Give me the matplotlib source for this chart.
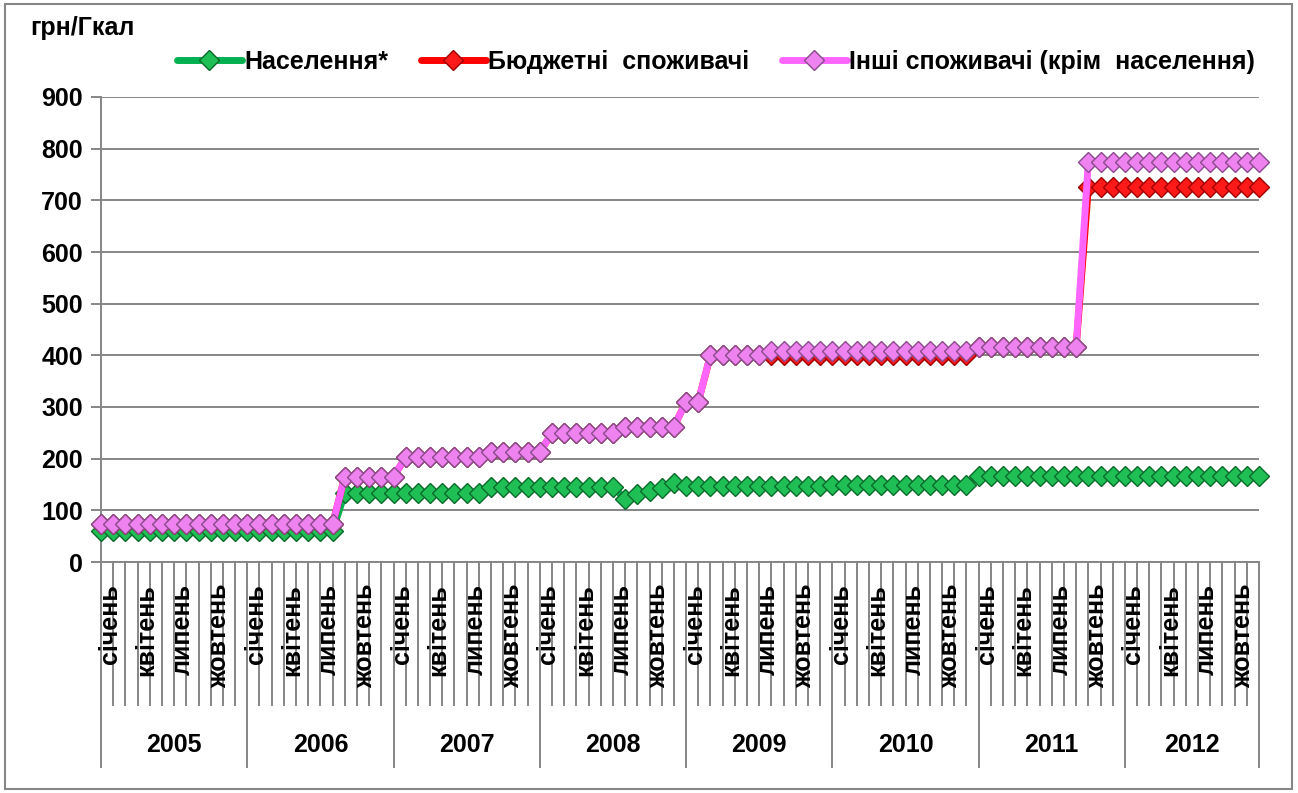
import matplotlib
matplotlib.use('Agg')
import matplotlib.pyplot as plt
from matplotlib.patches import Rectangle
import numpy as np

plt.rcParams['font.family'] = ['Liberation Sans', 'DejaVu Sans']
plt.rcParams['font.weight'] = 'bold'

# ---------------- data ----------------
years = ['2005', '2006', '2007', '2008', '2009', '2010', '2011', '2012']
month_labels = ['січень', 'квітень', 'липень', 'жовтень']
month_label_idx = [0, 3, 6, 9]
unit_label = 'грн/Гкал'
series_names = ['Населення*', 'Бюджетні  споживачі', 'Інші споживачі (крім  населення)']

# monthly tariffs, Jan 2005 .. Dec 2012 (12 values per row = one year)
naselennia = [
    60, 60, 60, 60, 60, 60, 60, 60, 60, 60, 60, 60,
    60, 60, 60, 60, 60, 60, 60, 60, 133, 133, 133, 133,
    133, 133, 133, 133, 133, 133, 133, 133, 146, 146, 146, 146,
    146, 146, 146, 146, 146, 146, 146, 122, 131, 137, 143, 152,
    147, 147, 147, 147, 147, 147, 147, 147, 147, 147, 147, 147,
    150, 150, 150, 150, 150, 150, 150, 150, 150, 150, 150, 150,
    167, 167, 167, 167, 167, 167, 167, 167, 167, 167, 167, 167,
    167, 167, 167, 167, 167, 167, 167, 167, 167, 167, 167, 167,
]
biudzhetni = [
    73, 73, 73, 73, 73, 73, 73, 73, 73, 73, 73, 73,
    73, 73, 73, 73, 73, 73, 73, 73, 165, 165, 165, 165,
    165, 203, 203, 203, 203, 203, 203, 203, 212, 212, 212, 212,
    212, 250, 250, 250, 250, 250, 250, 262, 262, 262, 262, 262,
    310, 310, 400, 400, 400, 400, 400, 400, 400, 400, 400, 400,
    400, 400, 400, 400, 400, 400, 400, 400, 400, 400, 400, 400,
    416, 416, 416, 416, 416, 416, 416, 416, 416, 725, 725, 725,
    725, 725, 725, 725, 725, 725, 725, 725, 725, 725, 725, 725,
]
inshi = [
    73, 73, 73, 73, 73, 73, 73, 73, 73, 73, 73, 73,
    73, 73, 73, 73, 73, 73, 73, 73, 165, 165, 165, 165,
    165, 203, 203, 203, 203, 203, 203, 203, 212, 212, 212, 212,
    212, 250, 250, 250, 250, 250, 250, 262, 262, 262, 262, 262,
    310, 310, 401, 401, 401, 401, 401, 408, 408, 408, 408, 408,
    408, 408, 408, 408, 408, 408, 408, 408, 408, 408, 408, 408,
    416, 416, 416, 416, 416, 416, 416, 416, 416, 775, 775, 775,
    775, 775, 775, 775, 775, 775, 775, 775, 775, 775, 775, 775,
]

# ---------------- layout ----------------
W, H = 1298, 793
fig = plt.figure(figsize=(W / 100, H / 100), dpi=100)
L, R, T, B = 101, 1259, 97, 562
ax = fig.add_axes([L / W, 1 - B / H, (R - L) / W, (B - T) / H])

GRAY = '#868686'
FS = 18

styles = [
    dict(color='#00B050', mfc='#1FBF55', mec='#0A6A2A'),
    dict(color='#FF0000', mfc='#FF1A1A', mec='#A00000'),
    dict(color='#FF66FF', mfc='#EE82EE', mec='#8B4A8B'),
]
data = [naselennia, biudzhetni, inshi]
x = np.arange(len(naselennia))
handles = []
for vals, st, name, z in zip(data, styles, series_names, [3, 4, 5]):
    ln, = ax.plot(x, vals, color=st['color'], lw=5, marker='D', ms=10.5,
                  mfc=st['mfc'], mec=st['mec'], mew=1.0, label=name,
                  solid_capstyle='round', zorder=z, clip_on=False)
    handles.append(ln)

ax.set_xlim(0, len(x) - 1)
ax.set_ylim(0, 900)
ax.set_yticks(range(0, 901, 100))
ax.yaxis.grid(True, color=GRAY, lw=1.4)
ax.set_axisbelow(True)
for s in ['top', 'right']:
    ax.spines[s].set_visible(False)
for s in ['left', 'bottom']:
    ax.spines[s].set_color(GRAY)
    ax.spines[s].set_linewidth(1.4)
ax.tick_params(axis='y', length=7, width=1.4, color=GRAY, pad=6, labelsize=FS)
for lab in ax.get_yticklabels():
    lab.set_fontweight('bold')
ax.set_xticks([])

# category axis: tick lines, month labels, year labels
trans = ax.get_xaxis_transform()
short_y = (B - 705) / (B - T)
long_y = (B - 767) / (B - T)
n = len(x)
for i in range(n):
    is_long = (i % 12 == 0) or (i == n - 1)
    ax.plot([i, i], [0, long_y if is_long else short_y], transform=trans,
            color=GRAY, lw=1.4, clip_on=False, zorder=1)

lab_top = (B - 584) / (B - T)
year_y = (B - 745) / (B - T)
for k, yr in enumerate(years):
    for m, ml in zip(month_label_idx, month_labels):
        ax.text(12 * k + m + 0.7, lab_top, ml, rotation=90, ha='center', va='top',
                transform=trans, fontsize=FS, fontweight='bold')
    start = 12 * k
    end = min(12 * k + 12, n - 1)
    ax.text((start + end) / 2, year_y, yr, ha='center', va='center',
            transform=trans, fontsize=FS, fontweight='bold')

# unit label
fig.text(30 / W, 1 - 28 / H, unit_label, ha='left', va='center', fontsize=FS,
         fontweight='bold')

# legend
fig.legend(handles, series_names, loc='center', bbox_to_anchor=(716 / W, 1 - 62 / H),
           ncol=3, frameon=False, handlelength=2.6, handletextpad=0.1,
           columnspacing=1.3, borderaxespad=0, numpoints=1,
           prop={'weight': 'bold', 'size': FS})

# outer frame
fig.patches.append(Rectangle((5 / W, 4 / H), (1292 - 5) / W, (789 - 4) / H,
                             transform=fig.transFigure, fill=False, ec=GRAY, lw=1.5))

fig.savefig('out.png', dpi=100)
